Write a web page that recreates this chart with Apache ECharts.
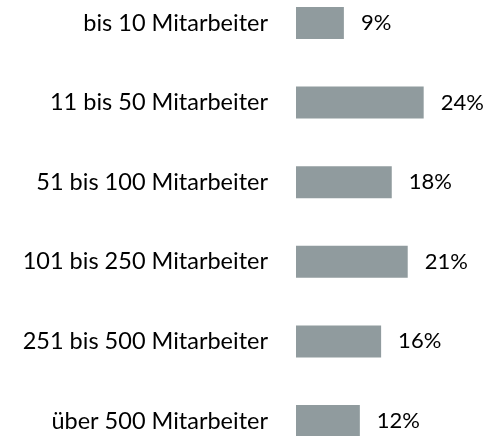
<!DOCTYPE html>
<html><head><meta charset="utf-8">
<script src="https://cdn.jsdelivr.net/npm/echarts@6/dist/echarts.min.js"></script>
<style>html,body{margin:0;padding:0;background:#fff}#c{width:490px;height:436px}</style>
</head><body><div id="c"></div>
<script>
const categories = ["bis 10 Mitarbeiter","11 bis 50 Mitarbeiter","51 bis 100 Mitarbeiter","101 bis 250 Mitarbeiter","251 bis 500 Mitarbeiter","über 500 Mitarbeiter"];
const values = [9,24,18,21,16,12];
const chart = echarts.init(document.getElementById('c'), null, {renderer:'canvas'});
chart.setOption({
  animation:false,
  grid:{left:296, top:23, width:159.6, height:398, containLabel:false},
  xAxis:{type:'value', min:0, max:30, show:false},
  yAxis:{type:'category', data:categories, inverse:true, boundaryGap:false,
    axisLine:{show:false}, axisTick:{show:false}, splitLine:{show:false},
    axisLabel:{margin:28, color:'#000', fontFamily:'Lato', fontSize:23.5}},
  series:[{type:'bar', data:values, barWidth:32, itemStyle:{color:'#909b9e'},
    label:{show:true, position:'right', distance:17, formatter:'{c}%', color:'#000', fontFamily:'Lato', fontSize:22}}]
});
</script></body></html>
